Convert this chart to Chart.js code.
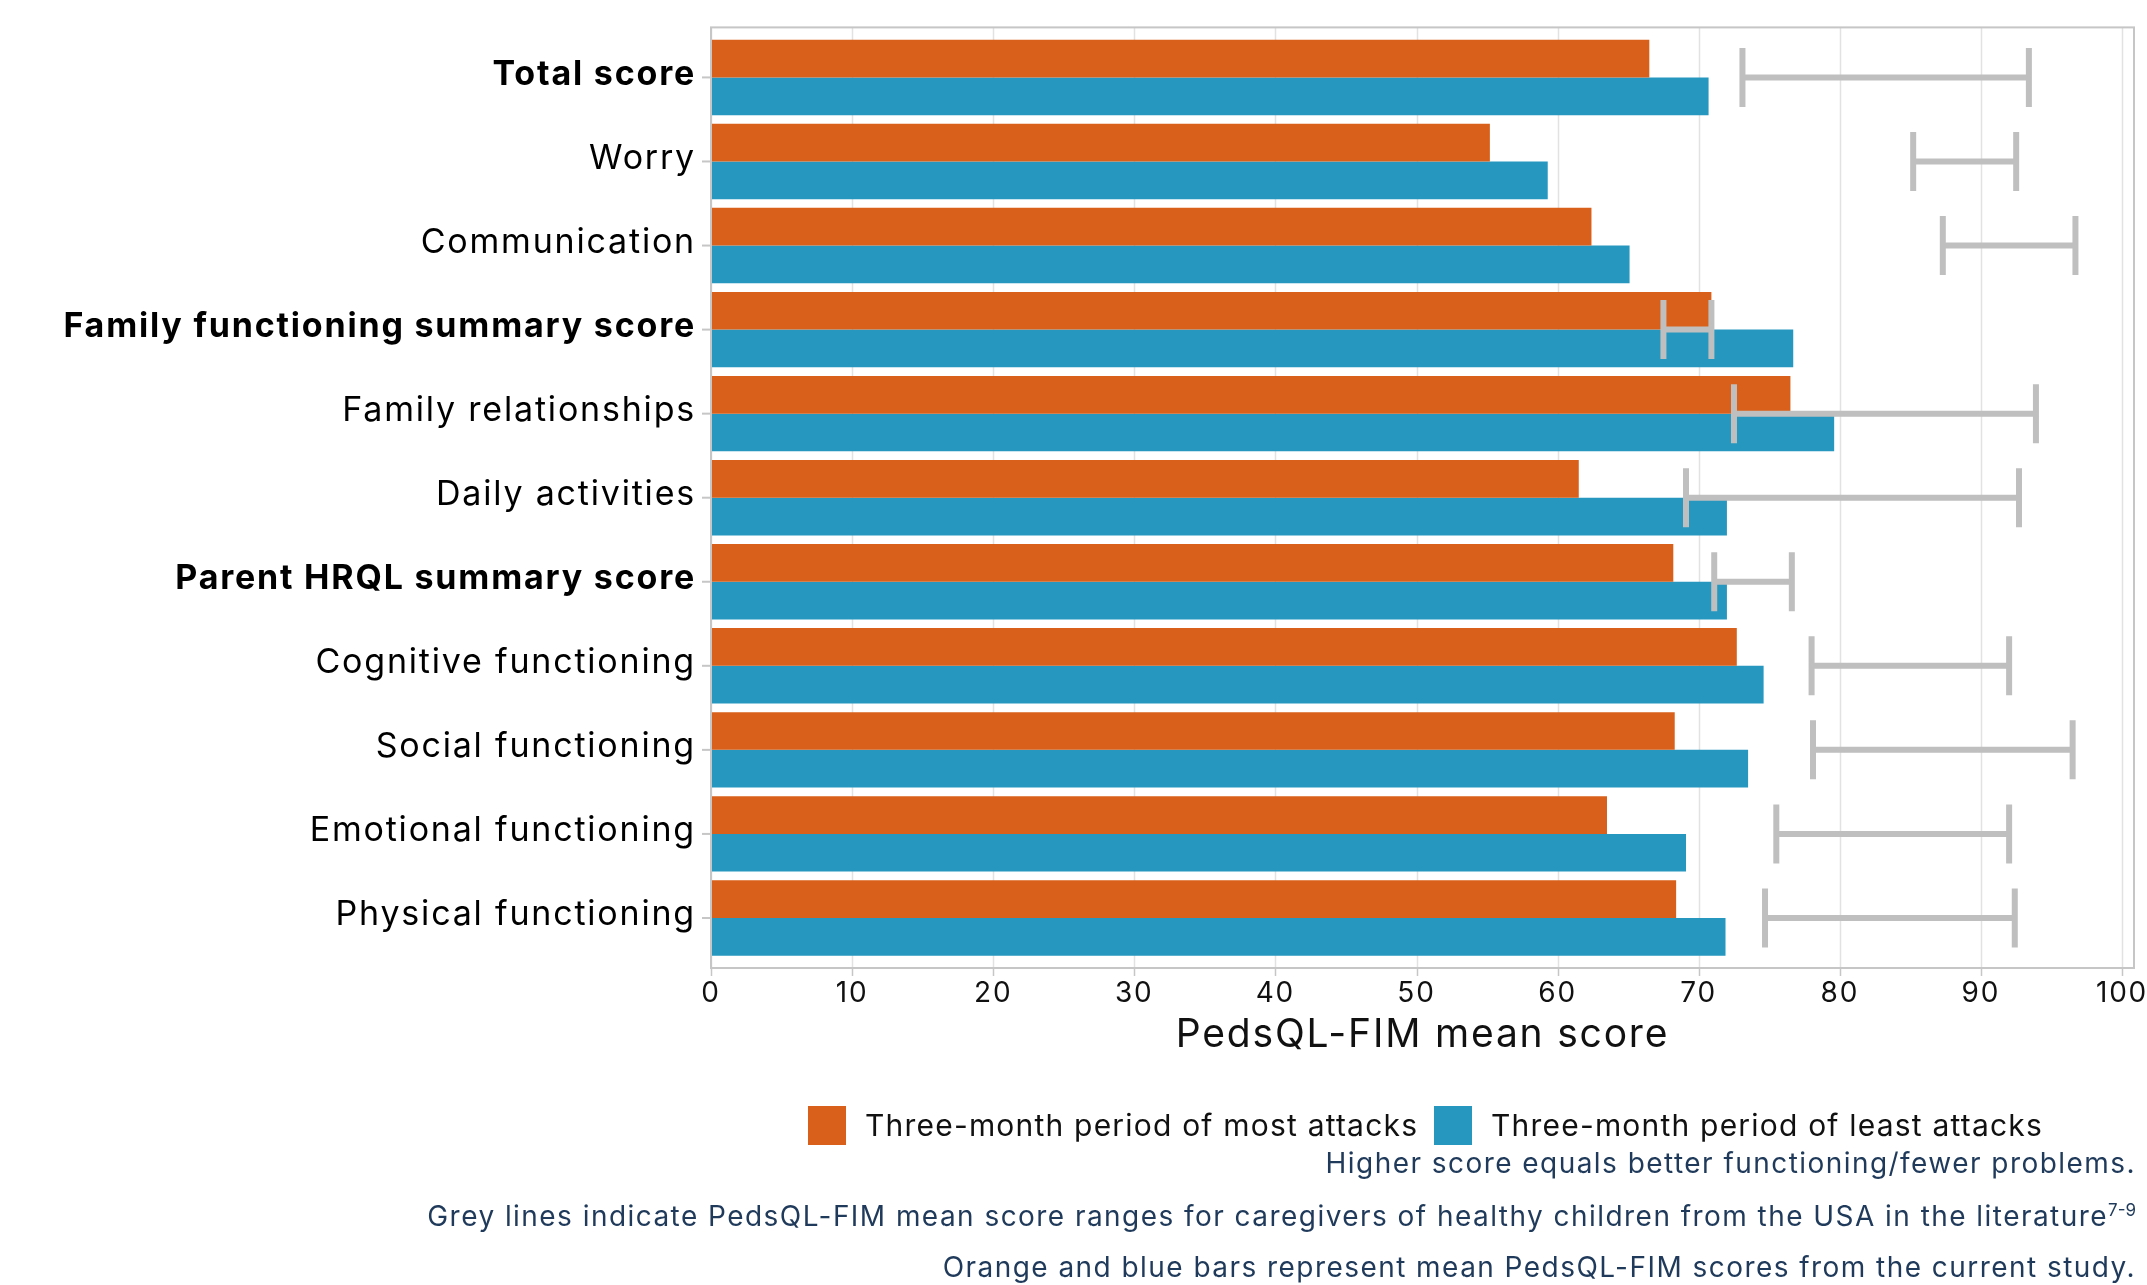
<!doctype html>
<html lang="en">
<head>
  <meta charset="utf-8">
  <title>PedsQL-FIM mean scores</title>
  <script src="https://cdn.jsdelivr.net/npm/chart.js"></script>
  <style>
    body {
      margin: 0;
      background: #fff;
      font-family: 'Inter', sans-serif;
    }

    .wrap {
      position: relative;
      width: 2147px;
      height: 1285px;
    }

    #scoreChart {
      position: absolute;
      left: 0;
      top: 0;
    }

    .legend-item {
      position: absolute;
      top: 1106px;
      display: flex;
      align-items: center;
      font-size: 30px;
      line-height: 39px;
      letter-spacing: 1.2px;
      color: #111;
      white-space: nowrap;
    }

    .swatch {
      width: 38px;
      height: 39px;
      margin-right: 19px;
    }

    .note {
      position: absolute;
      right: 11px;
      font-size: 28px;
      line-height: 34px;
      letter-spacing: 1.45px;
      color: #1f3a5a;
      white-space: nowrap;
      text-align: right;
    }

    .note sup {
      font-size: 17px;
      line-height: 0;
      letter-spacing: 0;
    }
  </style>
</head>

<body>
  <div class="wrap">
    <canvas id="scoreChart" width="2147" height="1285"></canvas>

    <div class="legend-item" style="left: 808px;">
      <span class="swatch" style="background: #d9601a;"></span>Three-month period of most attacks
    </div>
    <div class="legend-item" style="left: 1434px;">
      <span class="swatch" style="background: #2697bf;"></span>Three-month period of least attacks
    </div>

    <div class="note" style="top: 1146px;">Higher score equals better functioning/fewer problems.</div>
    <div class="note" style="top: 1199px;">Grey lines indicate PedsQL-FIM mean score ranges for caregivers of healthy children from the USA in the literature<sup>7-9</sup></div>
    <div class="note" style="top: 1250px;">Orange and blue bars represent mean PedsQL-FIM scores from the current study.</div>
  </div>

  <script>
    const categories = [
      'Total score',
      'Worry',
      'Communication',
      'Family functioning summary score',
      'Family relationships',
      'Daily activities',
      'Parent HRQL summary score',
      'Cognitive functioning',
      'Social functioning',
      'Emotional functioning',
      'Physical functioning'
    ];
    const boldLabels = ['Total score', 'Family functioning summary score', 'Parent HRQL summary score'];

    const mostAttacks = [66.5, 55.2, 62.4, 70.9, 76.5, 61.5, 68.2, 72.7, 68.3, 63.5, 68.4];
    const leastAttacks = [70.7, 59.3, 65.1, 76.7, 79.6, 72.0, 72.0, 74.6, 73.5, 69.1, 71.9];

    // healthy reference ranges from the literature (grey lines)
    const rangeLow = [73.1, 85.2, 87.3, 67.5, 72.5, 69.1, 71.1, 78.0, 78.1, 75.5, 74.7];
    const rangeHigh = [93.4, 92.5, 96.7, 70.9, 93.9, 92.7, 76.6, 92.0, 96.5, 92.0, 92.4];

    const xTicks = [0, 10, 20, 30, 40, 50, 60, 70, 80, 90, 100];

    // the frame sits 8px outside the category band, top and bottom
    const EXT = 8;

    const spacingPlugin = {
      id: 'spacing',
      beforeDraw(chart) {
        chart.ctx.letterSpacing = '1.8px';
      },
      afterDraw(chart) {
        chart.ctx.letterSpacing = '0px';
      }
    };

    // grid, frame and tick marks
    const framePlugin = {
      id: 'frame',
      beforeDatasetsDraw(chart) {
        const { ctx, chartArea: a, scales: { x } } = chart;
        const top = a.top - EXT, bottom = a.bottom + EXT;
        ctx.save();
        ctx.strokeStyle = '#e2e2e2';
        ctx.lineWidth = 1.5;
        x.ticks.forEach(t => {
          const px = Math.round(x.getPixelForValue(t.value)) + 0.5;
          ctx.beginPath();
          ctx.moveTo(px, top);
          ctx.lineTo(px, bottom);
          ctx.stroke();
        });
        ctx.restore();
      },
      afterDatasetsDraw(chart) {
        const { ctx, chartArea: a, scales: { x, y } } = chart;
        const top = a.top - EXT, bottom = a.bottom + EXT;
        ctx.save();
        ctx.strokeStyle = '#c6c6c6';
        ctx.lineWidth = 2;
        ctx.strokeRect(a.left, top, a.right - a.left, bottom - top);
        ctx.lineWidth = 1.5;
        x.ticks.forEach(t => {
          const px = Math.round(x.getPixelForValue(t.value)) + 0.5;
          ctx.beginPath();
          ctx.moveTo(px, bottom);
          ctx.lineTo(px, bottom + 8);
          ctx.stroke();
        });
        ctx.lineWidth = 2;
        categories.forEach((c, i) => {
          const py = y.getPixelForValue(i);
          ctx.beginPath();
          ctx.moveTo(a.left - 9, py);
          ctx.lineTo(a.left, py);
          ctx.stroke();
        });
        ctx.restore();
      }
    };

    const rangePlugin = {
      id: 'ranges',
      afterDatasetsDraw(chart) {
        const { ctx, scales: { x, y } } = chart;
        ctx.save();
        ctx.strokeStyle = '#bfbfbf';
        ctx.lineWidth = 6;
        ctx.lineCap = 'butt';
        categories.forEach((c, i) => {
          const py = y.getPixelForValue(i);
          const x1 = x.getPixelForValue(rangeLow[i]);
          const x2 = x.getPixelForValue(rangeHigh[i]);
          ctx.beginPath();
          ctx.moveTo(x1, py);
          ctx.lineTo(x2, py);
          ctx.moveTo(x1, py - 29.5);
          ctx.lineTo(x1, py + 29.5);
          ctx.moveTo(x2, py - 29.5);
          ctx.lineTo(x2, py + 29.5);
          ctx.stroke();
        });
        ctx.restore();
      }
    };

    const ctx = document.getElementById('scoreChart').getContext('2d');
    new Chart(ctx, {
      type: 'bar',
      data: {
        labels: categories,
        datasets: [{
          label: 'Three-month period of most attacks',
          data: mostAttacks,
          backgroundColor: '#d9601a',
          borderWidth: 0
        }, {
          label: 'Three-month period of least attacks',
          data: leastAttacks,
          backgroundColor: '#2697bf',
          borderWidth: 0
        }]
      },
      options: {
        indexAxis: 'y',
        responsive: false,
        animation: false,
        categoryPercentage: 0.897,
        barPercentage: 1.0,
        layout: {
          padding: { top: 35, right: 13, bottom: 226, left: 0 }
        },
        scales: {
          x: {
            min: 0,
            max: 100.85,
            afterBuildTicks(scale) {
              scale.ticks = xTicks.map(v => ({ value: v }));
            },
            afterFit(scale) {
              scale.height = 99;
              scale.paddingLeft = 0;
              scale.paddingRight = 0;
            },
            grid: { display: false, drawTicks: false },
            border: { display: false },
            ticks: {
              padding: 17,
              color: '#111',
              font: { family: 'Inter', size: 28 }
            },
            title: {
              display: true,
              text: 'PedsQL-FIM mean score',
              color: '#111',
              padding: { top: 0, bottom: 0 },
              font: { family: 'Inter', size: 39 }
            }
          },
          y: {
            afterFit(scale) {
              scale.width = 711;
            },
            grid: { display: false, drawTicks: false },
            border: { display: false },
            ticks: {
              padding: 15,
              labelOffset: -3,
              color: '#000',
              font: (c) => ({
                family: 'Inter',
                size: 34,
                weight: boldLabels.includes(categories[c.index]) ? 'bold' : 'normal'
              })
            }
          }
        },
        plugins: {
          legend: { display: false },
          tooltip: { enabled: false }
        }
      },
      plugins: [spacingPlugin, framePlugin, rangePlugin]
    });
  </script>
</body>

</html>
